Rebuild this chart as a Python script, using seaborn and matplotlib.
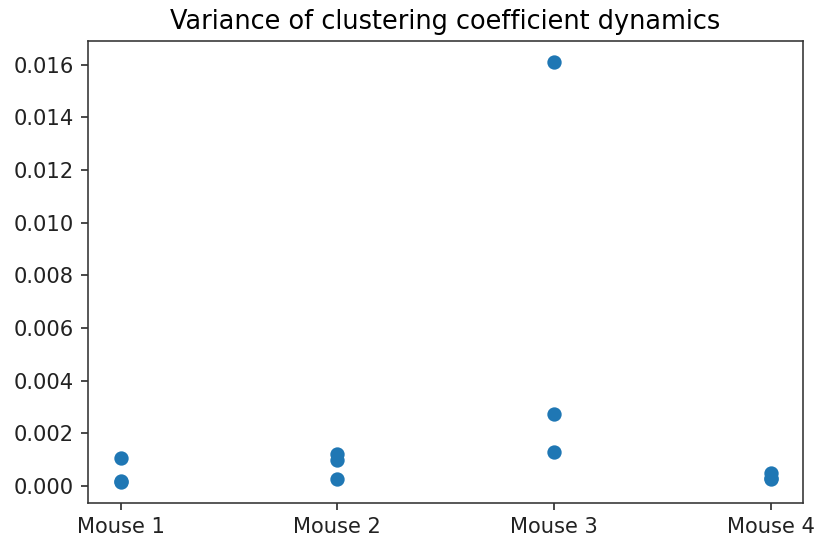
import pandas as pd
import numpy as np
import matplotlib.pyplot as plt
import seaborn as sns

# Variance values per mouse
mice = ['Mouse 1', 'Mouse 1', 'Mouse 1',
        'Mouse 2', 'Mouse 2', 'Mouse 2',
        'Mouse 3', 'Mouse 3', 'Mouse 3',
        'Mouse 4', 'Mouse 4', 'Mouse 4']
variances = [0.00105, 0.00020, 0.00015,
             0.00120, 0.00098, 0.00026,
             0.01610, 0.00275, 0.00130,
             0.00050, 0.00030, 0.00025]

df = pd.DataFrame({'Mouse': mice, 'Variance': variances})

fig = plt.figure(figsize=(815 / 144, 541 / 144), dpi=144)
ax = fig.add_axes([88 / 815, 1 - 503 / 541, 715 / 815, 462 / 541])
sns.scatterplot(data=df, x='Mouse', y='Variance', ax=ax,
                color='#1f77b4', edgecolor='#1f77b4', linewidth=1, s=38)
ax.margins(x=0.05, y=0.05)
ax.set_title('Variance of clustering coefficient dynamics', fontsize=12.8)
ax.set_xlabel('')
ax.set_ylabel('')
ax.set_yticks(np.arange(0, 0.0161, 0.002))
ax.tick_params(labelsize=10.5, colors='#222222')
for s in ax.spines.values():
    s.set_color('#333333')
plt.savefig('out.png', dpi=144)
